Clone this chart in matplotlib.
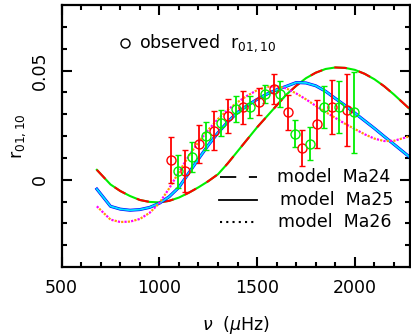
import numpy as np
import matplotlib
matplotlib.use('Agg')
import matplotlib.pyplot as plt

# observed ratios r01/r10, alternating red / green points
nu_red = [1059, 1130, 1203, 1280, 1353, 1429, 1508, 1585, 1658, 1729, 1808, 1881, 1958]
r_red = [0.0091, 0.0038, 0.0165, 0.0224, 0.0290, 0.0331, 0.0358, 0.0415,
         0.0308, 0.0145, 0.0256, 0.0332, 0.0320]
err_red = [0.0104, 0.0096, 0.0087, 0.0090, 0.0078, 0.0074, 0.0063, 0.0070,
           0.0079, 0.0082, 0.0110, 0.0125, 0.0165]

nu_green = [1093, 1166, 1241, 1314, 1390, 1466, 1542, 1619, 1692, 1768, 1844, 1919, 1997]
r_green = [0.0038, 0.0104, 0.0198, 0.0259, 0.0323, 0.0332, 0.0392, 0.0392,
           0.0210, 0.0165, 0.0332, 0.0332, 0.0308]
err_green = [0.0075, 0.0069, 0.0064, 0.0061, 0.0059, 0.0050, 0.0042, 0.0059,
             0.0062, 0.0077, 0.0095, 0.0118, 0.0187]

# model curves
nu_model = [680, 750, 800, 850, 900, 950, 1000, 1050, 1100, 1150, 1200, 1250,
            1300, 1350, 1400, 1450, 1500, 1550, 1600, 1650, 1700, 1750, 1800,
            1850, 1900, 1950, 2000, 2050, 2100, 2150, 2200, 2285]
r_ma24 = [0.0045, -0.0022, -0.0052, -0.0075, -0.0093, -0.0102, -0.0104, -0.0097,
          -0.0082, -0.0060, -0.0035, -0.0007, 0.0025, 0.0075, 0.0130, 0.0185,
          0.0240, 0.0290, 0.0340, 0.0390, 0.0430, 0.0465, 0.0490, 0.0507,
          0.0514, 0.0512, 0.0503, 0.0485, 0.0460, 0.0428, 0.0390, 0.0320]
r_ma25 = [-0.0043, -0.0122, -0.0135, -0.0140, -0.0137, -0.0127, -0.0108, -0.0078,
          -0.0035, 0.0030, 0.0095, 0.0158, 0.0215, 0.0265, 0.0308, 0.0340,
          0.0368, 0.0392, 0.0412, 0.0428, 0.0445, 0.0443, 0.0430, 0.0405,
          0.0372, 0.0340, 0.0305, 0.0270, 0.0235, 0.0198, 0.0162, 0.0100]
r_ma26 = [-0.0122, -0.0183, -0.0194, -0.0192, -0.0180, -0.0152, -0.0107, -0.0040,
          0.0035, 0.0108, 0.0172, 0.0228, 0.0278, 0.0320, 0.0355, 0.0385,
          0.0410, 0.0425, 0.0428, 0.0418, 0.0395, 0.0368, 0.0338, 0.0310,
          0.0283, 0.0256, 0.0232, 0.0208, 0.0188, 0.0177, 0.0178, 0.0200]

legend_labels = ['model  Ma24', 'model  Ma25', 'model  Ma26']

plt.rcParams.update({'font.family': 'DejaVu Sans', 'font.size': 12.5})

fig = plt.figure(figsize=(4.11, 3.35), dpi=100)
ax = fig.add_axes([0.150, 0.203, 0.848, 0.782])

# Ma24: red / green dashed
ax.plot(nu_model, r_ma24, color='#00ee00', lw=1.5)
ax.plot(nu_model, r_ma24, color='#ff0000', lw=1.5, ls=(0, (6, 6)))
# Ma25: blue / cyan solid
ax.plot(nu_model, r_ma25, color='#0000ff', lw=2.2)
ax.plot(nu_model, r_ma25, color='#00e5ff', lw=1.3)
# Ma26: magenta / orange dotted
ax.plot(nu_model, r_ma26, color='#ff00ff', lw=1.6, ls=(0, (1, 2)))
ax.plot(nu_model, r_ma26, color='#ff9900', lw=1.6, ls=(1.5, (1, 2)))

ax.errorbar(nu_red, r_red, yerr=err_red, fmt='o', color='#ff0000', mfc='none',
            ms=6.5, mew=1.0, elinewidth=1.3, capsize=2.5, capthick=1.3)
ax.errorbar(nu_green, r_green, yerr=err_green, fmt='o', color='#00ee00', mfc='none',
            ms=6.5, mew=1.0, elinewidth=1.3, capsize=2.5, capthick=1.3)

ax.set_xlim(500, 2283)
ax.set_ylim(-0.04, 0.08)
ax.set_xticks([500, 1000, 1500, 2000])
ax.set_xticks(np.arange(600, 2300, 100), minor=True)
ax.set_yticks([0, 0.05])
ax.set_yticklabels(['0', '0.05'], rotation=90, va='center')
ax.set_yticks(np.arange(-0.03, 0.08, 0.01), minor=True)
ax.tick_params(which='both', direction='in', top=True, right=True, width=1.5)
ax.tick_params(which='major', length=7)
ax.tick_params(which='minor', length=3.5)
ax.tick_params(axis='x', pad=9)
ax.tick_params(axis='y', pad=9)
for s in ax.spines.values():
    s.set_linewidth(1.6)

ax.set_xlabel(r'$\nu\ $ ($\mu$Hz)', labelpad=12)
ax.set_ylabel(r'r$_{01,10}$', labelpad=2)

# top label
ax.plot([0.182], [0.855], 'o', mfc='none', mec='black', ms=6.5, mew=1.0,
        transform=ax.transAxes, clip_on=False)
ax.text(0.222, 0.855, r'observed  r$_{01,10}$', transform=ax.transAxes,
        va='center', ha='left')

# legend glyphs
ax.plot([0.454, 0.561], [0.343, 0.343], color='black', lw=1.3, ls=(0, (9, 7)),
        transform=ax.transAxes)
ax.plot([0.452, 0.561], [0.256, 0.256], color='black', lw=1.3,
        transform=ax.transAxes)
ax.plot([0.454, 0.561], [0.172, 0.172], color='black', lw=1.5, ls=(0, (1, 2)),
        transform=ax.transAxes)
for yy, xx, lab in zip([0.343, 0.256, 0.172], [0.618, 0.627, 0.621], legend_labels):
    ax.text(xx, yy, lab, transform=ax.transAxes, va='center', ha='left')

fig.savefig('out.png', dpi=100)
